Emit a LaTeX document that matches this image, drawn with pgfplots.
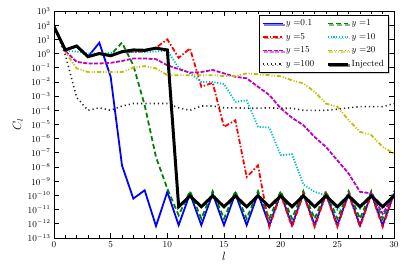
\documentclass[border=0pt]{standalone}
\usepackage{pgfplots}
\pgfplotsset{compat=1.18}
\usetikzlibrary{shadows}
\definecolor{mplg}{rgb}{0,0.5,0}
\definecolor{mplc}{rgb}{0,0.75,0.75}
\definecolor{mplm}{rgb}{0.75,0,0.75}
\definecolor{mply}{rgb}{0.75,0.75,0}
\begin{document}
\begin{tikzpicture}
\begin{axis}[
  scale only axis,
  width=340bp, height=227bp,
  ymode=log,
  xmin=0, xmax=30, ymin=1e-13, ymax=1e3,
  xtick={0,5,...,30}, minor x tick num=4,
  ytick={1e-13,1e-12,1e-11,1e-10,1e-9,1e-8,1e-7,1e-6,1e-5,1e-4,1e-3,1e-2,1e-1,1,1e1,1e2,1e3},
  yminorticks=false,
  log basis y=10,
  tick align=inside,
  major tick length=5bp, minor tick length=3bp,
  tick style={black, line width=0.8pt},
  axis line style={line width=1pt},
  xlabel={$l$}, ylabel={$C_l$},
  xlabel style={font=\large, yshift=2bp},
  ylabel style={font=\large, yshift=-2bp},
  tick label style={font=\small},
  legend columns=2,
  legend cell align=left,
  legend image post style={xscale=1.2},
  legend style={at={(0.985,0.983)}, anchor=north east, font=\small, draw=black, line width=0.9pt,
    fill=white, drop shadow={shadow xshift=1.5bp, shadow yshift=-1.5bp, fill=gray!70},
    /tikz/every even column/.append style={column sep=10bp}, row sep=2bp, inner sep=2.5bp},
]
\addplot[blue, line width=1.8pt] coordinates {
(0,80)(1,1.8)(2,3.4)(3,0.6)(4,5.8)(5,0.023)(6,1.3e-8)(7,6e-11)(8,2.3e-10)(9,7e-13)(10,1.8e-10)
(11,8e-13)(12,1.35e-10)(13,8e-13)(14,1.35e-10)(15,8e-13)(16,1.35e-10)(17,8e-13)(18,1.35e-10)(19,8e-13)(20,1.35e-10)
(21,8e-13)(22,1.35e-10)(23,8e-13)(24,1.35e-10)(25,8e-13)(26,1.35e-10)(27,8e-13)(28,1.35e-10)(29,8e-13)(30,1.35e-10)};
\addlegendentry{$y=$0.1}
\addplot[mplg, line width=1.8pt, dash pattern=on 5pt off 3pt] coordinates {
(0,80)(1,1.8)(2,3.2)(3,0.65)(4,1.0)(5,0.8)(6,6)(7,0.15)(8,2.3e-4)(9,5e-8)(10,3e-10)
(11,4e-12)(12,2e-10)(13,2.3e-12)(14,2e-10)(15,2.3e-12)(16,2e-10)(17,2.3e-12)(18,2e-10)(19,2.3e-12)(20,2e-10)
(21,2.3e-12)(22,2e-10)(23,2.3e-12)(24,2e-10)(25,2.3e-12)(26,2e-10)(27,2.3e-12)(28,2e-10)(29,2.3e-12)(30,2e-10)};
\addlegendentry{$y=$1}
\addplot[red, line width=1.8pt, dash pattern=on 5pt off 2pt on 1.5pt off 2pt] coordinates {
(0,80)(1,1.8)(2,3.4)(3,0.6)(4,1.0)(5,0.75)(6,1.3)(7,1.3)(8,1.4)(9,2.6)(10,10)
(11,0.5)(12,2.3)(13,4.6e-3)(14,8.7e-3)(15,6.8e-6)(16,2e-5)(17,2e-9)(18,1.3e-8)(19,6e-13)(20,1.2e-10)
(21,6e-13)(22,1.2e-10)(23,6e-13)(24,1.2e-10)(25,6e-13)(26,1.2e-10)(27,6e-13)(28,1.2e-10)(29,6e-13)(30,1.2e-10)};
\addlegendentry{$y=$5}
\addplot[mplc, line width=1.8pt, dash pattern=on 1.2pt off 1.6pt] coordinates {
(0,80)(1,1.5)(2,1.4)(3,1.0)(4,1.0)(5,1.1)(6,1.2)(7,1.3)(8,1.3)(9,1.4)(10,1.6)
(11,0.1)(12,0.04)(13,0.01)(14,0.01)(15,7e-3)(16,4e-4)(17,5e-4)(18,7e-6)(19,6e-6)(20,7e-8)
(21,8e-8)(22,6e-10)(23,1.8e-10)(24,1e-10)(25,1e-11)(26,1e-10)(27,1.2e-11)(28,1e-10)(29,1.2e-11)(30,1e-10)};
\addlegendentry{$y=$10}
\addplot[mplm, line width=1.8pt, dash pattern=on 4pt off 1.5pt] coordinates {
(0,80)(1,1.5)(2,0.26)(3,0.2)(4,0.2)(5,0.22)(6,0.3)(7,0.45)(8,0.45)(9,0.4)(10,0.15)
(11,0.08)(12,0.045)(13,0.05)(14,0.07)(15,0.04)(16,0.023)(17,0.018)(18,4.6e-3)(19,1.2e-3)(20,1.4e-4)
(21,3e-5)(22,9e-6)(23,1.3e-6)(24,2.6e-7)(25,3e-8)(26,3.5e-9)(27,1.8e-10)(28,1.4e-10)(29,5e-12)(30,1e-10)};
\addlegendentry{$y=$15}
\addplot[mply, line width=1.8pt, dash pattern=on 4pt off 2pt on 1pt off 1.5pt on 1pt off 2pt] coordinates {
(0,80)(1,1.3)(2,0.09)(3,0.05)(4,0.05)(5,0.05)(6,0.05)(7,0.1)(8,0.13)(9,0.09)(10,0.03)
(11,0.03)(12,0.03)(13,0.03)(14,0.03)(15,0.026)(16,0.026)(17,0.04)(18,0.035)(19,0.03)(20,0.025)
(21,0.013)(22,8e-3)(23,2e-3)(24,3e-4)(25,1.8e-4)(26,2e-5)(27,3e-6)(28,1.8e-6)(29,2.6e-7)(30,9e-8)};
\addlegendentry{$y=$20}
\addplot[black!85, line width=1.6pt, dash pattern=on 1.2pt off 3pt] coordinates {
(0,80)(1,0.8)(2,8e-4)(3,1e-4)(4,1.5e-4)(5,1e-4)(6,2e-4)(7,3e-4)(8,3e-4)(9,3e-4)(10,3e-4)
(11,1.5e-4)(12,1e-4)(13,2e-4)(14,2e-4)(15,1.5e-4)(16,1.5e-4)(17,1.4e-4)(18,1.4e-4)(19,1.5e-4)(20,1.4e-4)
(21,1.4e-4)(22,1e-4)(23,1e-4)(24,1e-4)(25,1.2e-4)(26,1.5e-4)(27,1.8e-4)(28,1.8e-4)(29,1.8e-4)(30,3e-4)};
\addlegendentry{$y=$100}
\addplot[black, line width=3pt] coordinates {
(0,80)(1,1.8)(2,3.4)(3,0.6)(4,1.0)(5,0.7)(6,1.35)(7,1.8)(8,1.7)(9,2.4)(10,1.8)
(11,1.6e-11)(12,9.3e-11)(13,1.6e-11)(14,9.3e-11)(15,1.6e-11)(16,9.3e-11)(17,1.6e-11)(18,9.3e-11)(19,1.6e-11)(20,9.3e-11)
(21,1.6e-11)(22,9.3e-11)(23,1.6e-11)(24,9.3e-11)(25,1.6e-11)(26,9.3e-11)(27,1.6e-11)(28,9.3e-11)(29,1.6e-11)(30,9.3e-11)};
\addlegendentry{Injected}
\end{axis}
\path (current axis.south west) +(-54bp,-40bp) (current axis.north east) +(13bp,11bp);
\end{tikzpicture}
\end{document}
